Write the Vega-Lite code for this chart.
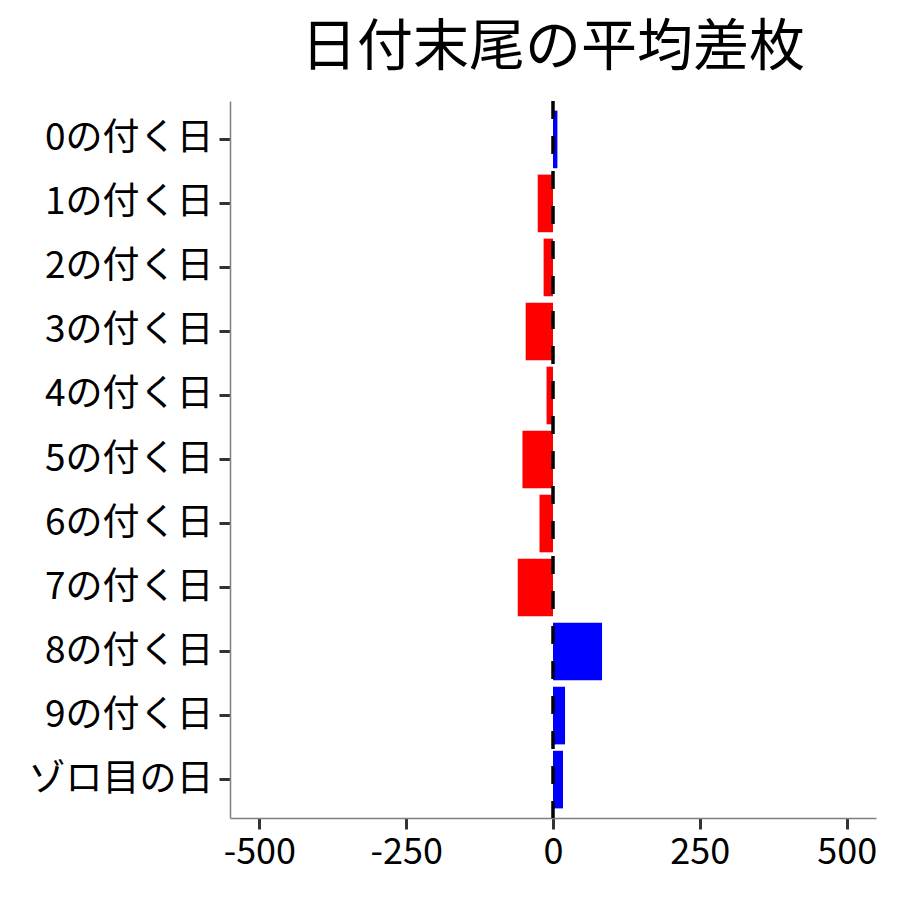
{
  "$schema": "https://vega.github.io/schema/vega-lite/v6.json",
  "autosize": "none",
  "padding": {"left": 230, "top": 101, "right": 24, "bottom": 82},
  "width": 646,
  "height": 717,
  "background": "white",
  "title": {
    "text": "日付末尾の平均差枚",
    "font": "Noto Sans CJK JP",
    "fontSize": 56,
    "fontWeight": "normal",
    "color": "black",
    "anchor": "middle",
    "offset": 22
  },
  "config": {
    "view": {"stroke": null},
    "axis": {
      "grid": false,
      "domainColor": "#7f7f7f",
      "domainWidth": 1.5,
      "tickColor": "#333333",
      "tickWidth": 3,
      "tickSize": 11,
      "labelFont": "Noto Sans CJK JP",
      "labelColor": "black",
      "labelLimit": 0,
      "title": null
    }
  },
  "data": {
    "values": [
      {"day": "0の付く日", "diff": 7.5},
      {"day": "1の付く日", "diff": -26},
      {"day": "2の付く日", "diff": -16},
      {"day": "3の付く日", "diff": -46.5},
      {"day": "4の付く日", "diff": -11},
      {"day": "5の付く日", "diff": -52},
      {"day": "6の付く日", "diff": -23},
      {"day": "7の付く日", "diff": -60},
      {"day": "8の付く日", "diff": 83.5},
      {"day": "9の付く日", "diff": 20.5},
      {"day": "ゾロ目の日", "diff": 17}
    ]
  },
  "layer": [
    {
      "mark": {"type": "bar"},
      "encoding": {
        "y": {
          "field": "day",
          "type": "nominal",
          "sort": null,
          "scale": {"paddingInner": 0.1, "paddingOuter": 0.15},
          "axis": {"labelPadding": 6, "labelFontSize": 37, "labelLimit": 0}
        },
        "x": {
          "field": "diff",
          "type": "quantitative",
          "scale": {"domain": [-550, 550], "nice": false, "zero": false},
          "axis": {
            "values": [-500, -250, 0, 250, 500],
            "labelExpr": "toString(datum.value)",
            "labelPadding": 6,
            "labelFontSize": 36,
            "labelFlush": false
          }
        },
        "color": {
          "condition": {"test": "datum.diff > 0", "value": "#0000FF"},
          "value": "#FF0000"
        }
      }
    },
    {
      "data": {"values": [{"zero": 0}]},
      "mark": {"type": "rule", "color": "black", "strokeWidth": 3.5, "strokeDash": [18, 17]},
      "encoding": {
        "x": {"field": "zero", "type": "quantitative"}
      }
    }
  ]
}
